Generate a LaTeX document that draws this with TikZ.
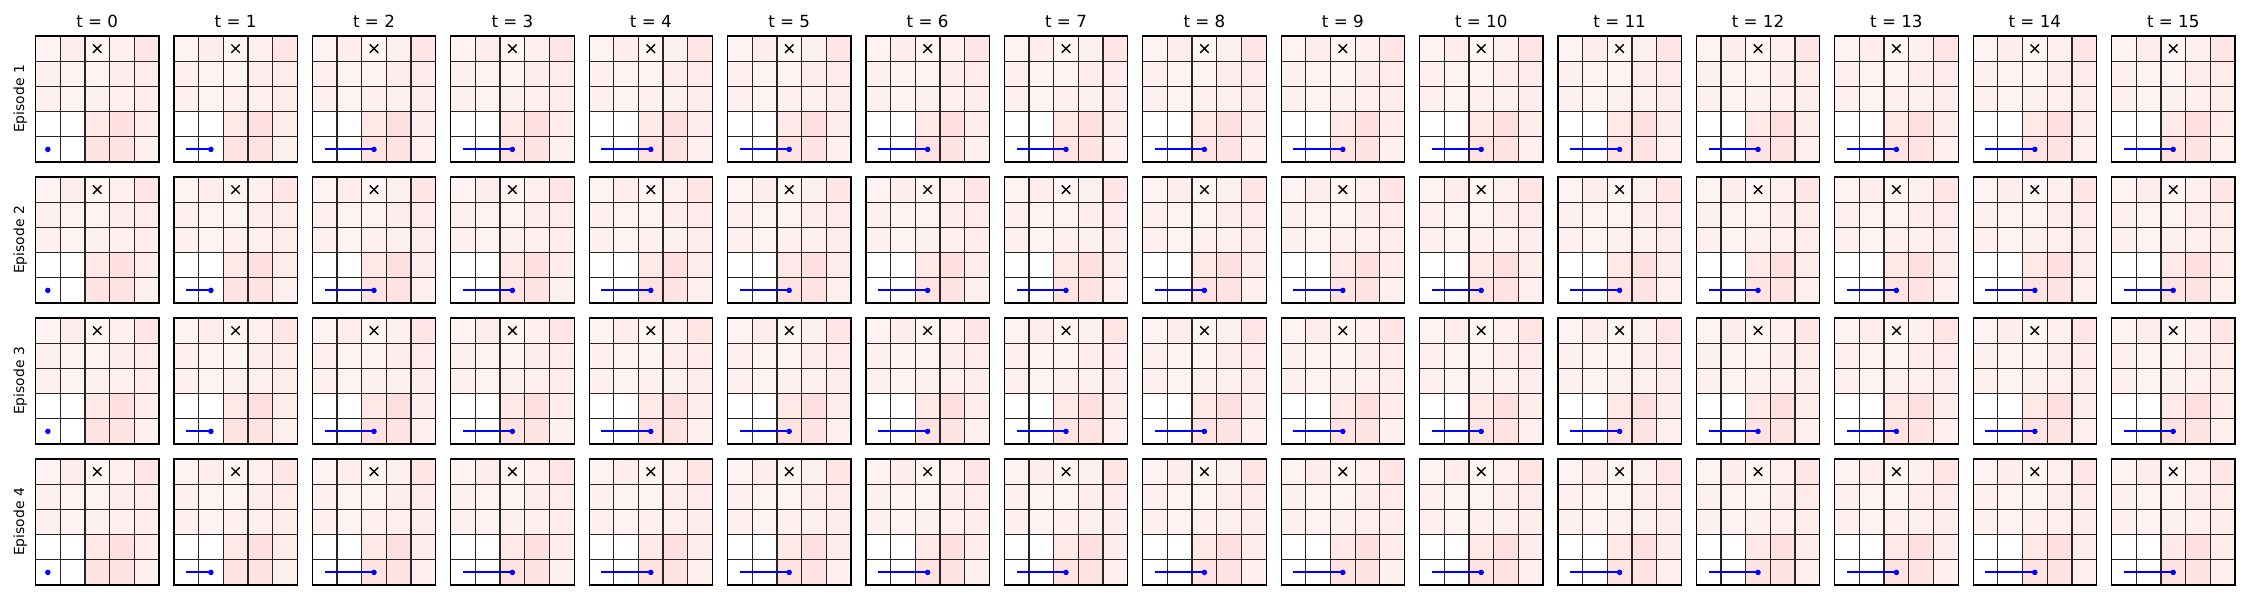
\documentclass[tikz,border=0pt]{standalone}
\usepackage{fontspec}
\setmainfont{DejaVu Sans}
\usetikzlibrary{positioning,shapes.misc}

\begin{document}
\begin{tikzpicture}[x=1pt,y=-1pt]
% STYLES
\tikzset{%
    cellgrid/.style={draw=black!85, line width=1.3pt},
    panelframe/.style={draw=black, line width=1.2pt},
    trail/.style={draw=blue, line width=2pt},
    agentdot/.style={circle, fill=blue, inner sep=0pt, minimum size=5.5pt},
    goalmark/.style={cross out, draw=black, line width=1.4pt, inner sep=0pt, minimum size=7pt},
    coltitle/.style={font=\fontsize{16.7}{20}\selectfont, anchor=base},
    rowlabel/.style={font=\fontsize{13.9}{16}\selectfont, rotate=90, anchor=base}
}
\useasboundingbox (0,0) rectangle (2250,600);
% Draw panels: episodes (rows) by time steps (columns)
\foreach \ep in {0,...,3} {
  \foreach \t in {0,...,15} {
    \pgfmathsetmacro\px{35.5+\t*138.4}
    \pgfmathsetmacro\py{36+\ep*141}
    \pgfmathtruncatemacro\ax{min(\t,2)}
    \begin{scope}[shift={(\px,\py)}, x=24.68pt, y=-25.2pt]
      % cell shading
      \foreach \row/\vals in {0/{5,7,4,6,10},1/{6,5,5,7,8},2/{6,5,6,6,7},3/{0,0,9,12,7},4/{0,0,11,11,6}} {
        \foreach \v [count=\col from 0] in \vals {
          \fill[red!\v!white] (\col,\row) rectangle ++(1,1);
        }
      }
      % grid lines
      \foreach \k in {1,...,4} {
        \draw[cellgrid] (\k,0) -- (\k,5);
        \draw[cellgrid] (0,\k) -- (5,\k);
      }
      \draw[panelframe] (0,0) rectangle (5,5);
      % goal and agent path
      \node[goalmark] (goal-\ep-\t) at (2.5,0.5) {};
      \coordinate (start-\ep-\t) at (0.5,4.5);
      \coordinate (agent-\ep-\t) at (\ax+0.5,4.5);
      \draw[trail] (start-\ep-\t) -- (agent-\ep-\t);
      \node[agentdot] (dot-\ep-\t) at (agent-\ep-\t) {};
    \end{scope}
  }
}
% Draw column titles
\foreach \t in {0,...,15} {
  \pgfmathsetmacro\tx{35.5+\t*138.4+61.7}
  \node[coltitle] (title-\t) at (\tx,27.7) {t = \t};
}
% Draw row labels
\foreach \ep in {0,...,3} {
  \pgfmathsetmacro\ly{36+\ep*141+63}
  \pgfmathtruncatemacro\epnum{\ep+1}
  \node[rowlabel] (episode-\epnum) at (24,\ly) {Episode \epnum};
}
\end{tikzpicture}
\end{document}
